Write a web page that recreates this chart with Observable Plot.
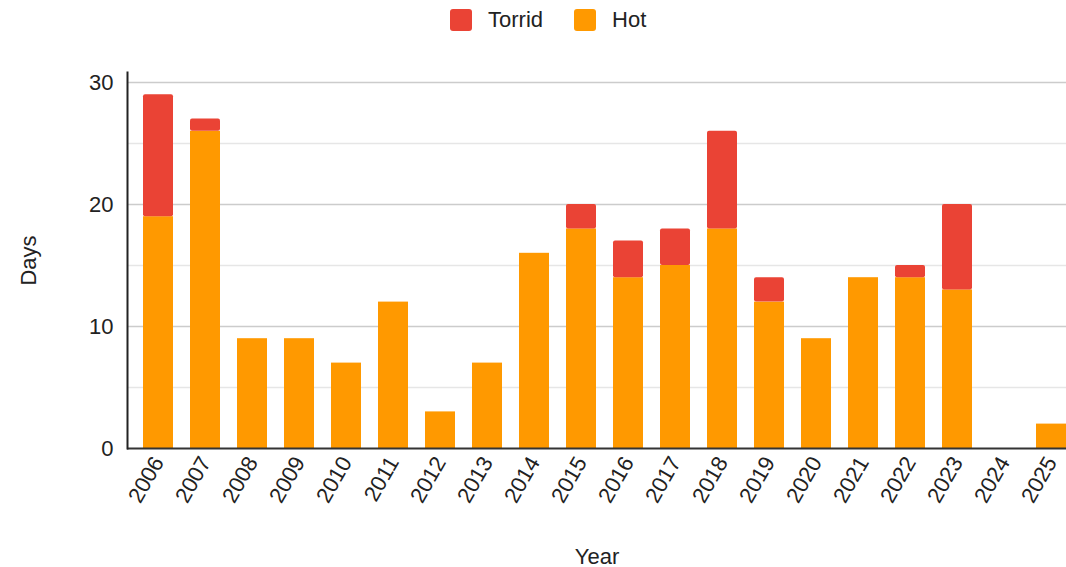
<!DOCTYPE html>
<html>
<head>
<meta charset="utf-8">
<script src="https://cdn.jsdelivr.net/npm/d3@7"></script>
<script src="https://cdn.jsdelivr.net/npm/@observablehq/plot@0.6"></script>
<style>
  html, body { margin: 0; padding: 0; background: #fff; }
  #wrap { position: relative; width: 1066px; height: 567px; font-family: Arial, "Liberation Sans", sans-serif; }
  #legend { position: absolute; top: 7px; left: 450px; display: flex; gap: 31px; font-size: 22px; color: #222; line-height: 26px; }
  .item { display: flex; align-items: center; gap: 16px; }
  .sw { width: 22px; height: 22px; border-radius: 3px; display: inline-block; }
  #chart { position: absolute; top: 0; left: 0; }
</style>
</head>
<body>
<div id="wrap">
  <div id="chart"></div>
  <div id="legend"></div>
</div>
<script>
const years = ["2006","2007","2008","2009","2010","2011","2012","2013","2014","2015","2016","2017","2018","2019","2020","2021","2022","2023","2024","2025"];
const hot    = [19,26,9,9,7,12,3,7,16,18,14,15,18,12,9,14,14,13,0,2];
const torrid = [10,1,0,0,0,0,0,0,0,2,3,3,8,2,0,0,1,7,0,0];
const seriesNames = ["Torrid","Hot"];
const seriesColors = ["#EA4335","#FF9900"];
const yTicks = [0,10,20,30];
const yMinorTicks = [5,15,25];

const rows = years.map((y, i) => ({year: y, hot: hot[i], torrid: torrid[i]}));

const legend = document.getElementById("legend");
seriesNames.forEach((n, i) => {
  const it = document.createElement("div");
  it.className = "item";
  const sw = document.createElement("span");
  sw.className = "sw";
  sw.style.background = seriesColors[i];
  const t = document.createElement("span");
  t.textContent = n;
  it.appendChild(sw); it.appendChild(t);
  legend.appendChild(it);
});

const chart = Plot.plot({
  width: 1066,
  height: 567,
  marginLeft: 127,
  marginRight: 0,
  marginTop: 72,
  marginBottom: 119,
  style: {fontFamily: "Arial, 'Liberation Sans', sans-serif", fontSize: "22px", color: "#222", background: "transparent"},
  x: {domain: years, range: [143, 1066], paddingInner: 0.362, paddingOuter: 0},
  y: {domain: [0, 30.82]},
  marks: [
    Plot.ruleY(yMinorTicks, {stroke: "#e6e6e6", strokeWidth: 1.5}),
    Plot.ruleY(yTicks.filter(d => d > 0), {stroke: "#cccccc", strokeWidth: 1.5}),
    Plot.barY(rows, {x: "year", y1: 0, y2: "hot", fill: seriesColors[1]}),
    Plot.barY(rows.filter(d => d.torrid > 0), {x: "year", y1: "hot", y2: d => d.hot + d.torrid, fill: seriesColors[0], rx: 2}),
    Plot.axisY({ticks: yTicks, tickSize: 0, tickPadding: 14, label: "Days", labelAnchor: "center", labelArrow: "none", labelOffset: 107, fontSize: 22}),
    Plot.axisX({tickSize: 0, tickPadding: 10, tickRotate: -60, label: "Year", labelAnchor: "center", labelArrow: "none", labelOffset: 115, fontSize: 22}),
    Plot.ruleY([0], {stroke: "#333", strokeWidth: 2}),
    Plot.frame({anchor: "left", stroke: "#222", strokeWidth: 2})
  ]
});
document.getElementById("chart").appendChild(chart);
</script>
</body>
</html>
